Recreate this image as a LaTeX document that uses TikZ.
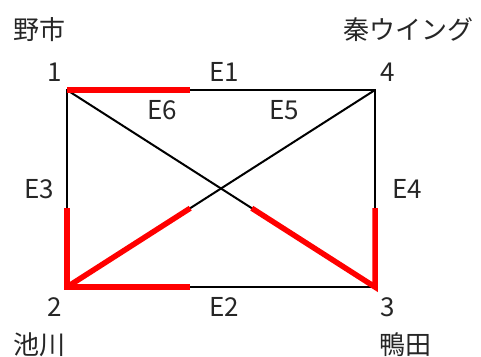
\documentclass[tikz,border=0pt]{standalone}
\usepackage{fontspec}
\setmainfont{Noto Sans CJK JP}
\usetikzlibrary{calc}
\begin{document}
\begin{tikzpicture}[x=1pt,y=-1pt,
  lbl/.style={font=\fontsize{26}{30}\selectfont, inner sep=0pt, text=black!85},
  edge/.style={line width=2pt, black},
  hl/.style={line width=5.5pt, red, line join=miter}]
\useasboundingbox (0,0) rectangle (481,356);
\coordinate (n1) at (67,90);
\coordinate (n4) at (375,90);
\coordinate (n2) at (67,287);
\coordinate (n3) at (375,287);
\draw[edge] (n1) -- (n4) -- (n3) -- (n2) -- cycle;
\draw[edge] (n1) -- (n3);
\draw[edge] (n2) -- (n4);
\draw[hl] (n1) -- ($(n1)!0.4!(n4)$);
\draw[hl] ($(n2)!0.4!(n1)$) -- (n2) -- ($(n2)!0.4!(n3)$);
\draw[hl] (n2) -- ($(n2)!0.4!(n4)$);
\draw[hl] ($(n3)!0.4!(n4)$) -- (n3) -- ($(n3)!0.4!(n1)$);
\node[lbl] (l1) at (55,72) {1};
\node[lbl] (l4) at (388,72) {4};
\node[lbl] (l2) at (55,307) {2};
\node[lbl] (l3) at (388,307) {3};
\node[lbl] (t1) at (39,30) {野市};
\node[lbl] (t4) at (408,30) {秦ウイング};
\node[lbl] (t2) at (39,345) {池川};
\node[lbl] (t3) at (405,345) {鴨田};
\node[lbl] (e1) at (224,72) {E1};
\node[lbl] (e6) at (162,110) {E6};
\node[lbl] (e5) at (284,110) {E5};
\node[lbl] (e3) at (39,189) {E3};
\node[lbl] (e4) at (407,189) {E4};
\node[lbl] (e2) at (224,307) {E2};
\end{tikzpicture}
\end{document}
